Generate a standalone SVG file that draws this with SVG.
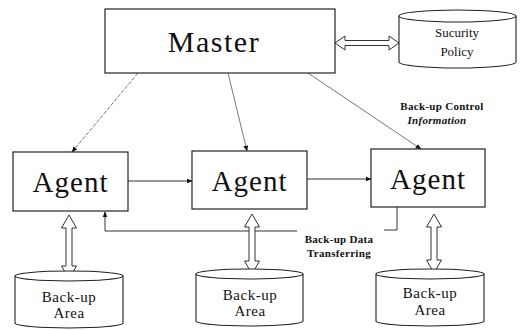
<svg xmlns="http://www.w3.org/2000/svg" width="529" height="330" viewBox="0 0 529 330">
<style>
.box{fill:#fff;stroke:#222;stroke-width:1.2}
.cyl{fill:#fff;stroke:#222;stroke-width:1.1}
.big{font-family:"Liberation Serif",serif;fill:#111;text-anchor:middle}
.lbl{font-family:"Liberation Serif",serif;font-size:15px;fill:#111;text-anchor:middle;letter-spacing:0.5px}
.sm{font-family:"Liberation Serif",serif;font-size:11px;font-weight:bold;fill:#111;text-anchor:middle;letter-spacing:0.3px}
.ln{fill:none;stroke:#333;stroke-width:1}
.thin{fill:none;stroke:#555;stroke-width:0.8}
.hol{fill:#fff;stroke:#333;stroke-width:1}
</style>
<defs>
<marker id="ah" viewBox="0 0 10 10" refX="9" refY="5" markerWidth="6" markerHeight="6" orient="auto" markerUnits="userSpaceOnUse">
<path d="M0,1 L10,5 L0,9 Z" fill="#111"/>
</marker>
</defs>
<g id="connectors">
<line class="thin" x1="138" y1="73" x2="72" y2="152" marker-end="url(#ah)" stroke-dasharray="4,1.5"/>
<line class="thin" x1="228" y1="73" x2="247" y2="151" marker-end="url(#ah)"/>
<line class="thin" x1="308" y1="73" x2="421" y2="149" marker-end="url(#ah)"/>
<line class="ln" x1="128" y1="181" x2="192" y2="181" marker-end="url(#ah)"/>
<line class="ln" x1="307" y1="179" x2="371" y2="179" marker-end="url(#ah)"/>
<path class="ln" d="M397,207 V230 H384 M297,231 H105 V212" marker-end="url(#ah)"/>
<path class="hol" d="M335,43 L345,36 L345,40.5 L389,40.5 L389,36 L399,43 L389,50 L389,45.5 L345,45.5 L345,50 Z"/>
<path class="hol" d="M69,215 L76.5,228 L72,228 L72,266 L76.5,266 L69,279 L61.5,266 L66,266 L66,228 L61.5,228 Z"/>
<path class="hol" d="M252,214 L259.5,227 L255,227 L255,261 L259.5,261 L252,274 L244.5,261 L249,261 L249,227 L244.5,227 Z"/>
<path class="hol" d="M434,214 L441.5,227 L437,227 L437,260 L441.5,260 L434,273 L426.5,260 L431,260 L431,227 L426.5,227 Z"/>
<text class="sm" x="442" y="110">Back-up Control</text>
<text class="sm" x="437" y="124" font-style="italic">Information</text>
<text class="sm" x="339" y="243">Back-up Data</text>
<text class="sm" x="339" y="257">Transferring</text>
</g>
<g id="master">
<rect class="box" x="105" y="9" width="230" height="64"/>
<text class="big" x="214" y="52" font-size="30" letter-spacing="1.5">Master</text>
</g>
<g id="security-policy">
<path class="cyl" d="M399,16 V62 A58.5,6 0 0 0 516,62 V16"/>
<ellipse class="cyl" cx="457.5" cy="16" rx="58.5" ry="6"/>
<text class="big" x="457" y="37" font-size="13">Sucurity</text>
<text class="big" x="457" y="56" font-size="13">Policy</text>
</g>
<g id="agent1">
<rect class="box" x="13" y="152" width="115" height="59"/>
<text class="big" x="70.5" y="192" font-size="29" letter-spacing="1">Agent</text>
</g>
<g id="agent2">
<rect class="box" x="192" y="151" width="115" height="58"/>
<text class="big" x="249.5" y="191" font-size="29" letter-spacing="1">Agent</text>
</g>
<g id="agent3">
<rect class="box" x="371" y="149" width="114" height="58"/>
<text class="big" x="428" y="189" font-size="29" letter-spacing="1">Agent</text>
</g>
<g id="backup-area1">
<path class="cyl" d="M15,276 V323 A54,5 0 0 0 123,323 V276"/>
<ellipse class="cyl" cx="69" cy="276" rx="54" ry="5"/>
<text class="lbl" x="69" y="302">Back-up</text>
<text class="lbl" x="69" y="318">Area</text>
</g>
<g id="backup-area2">
<path class="cyl" d="M196,274 V321 A53.5,5 0 0 0 303,321 V274"/>
<ellipse class="cyl" cx="249.5" cy="274" rx="53.5" ry="5"/>
<text class="lbl" x="250" y="300">Back-up</text>
<text class="lbl" x="250" y="316">Area</text>
</g>
<g id="backup-area3">
<path class="cyl" d="M376,274 V321 A54,5 0 0 0 484,321 V274"/>
<ellipse class="cyl" cx="430" cy="274" rx="54" ry="5"/>
<text class="lbl" x="430" y="298">Back-up</text>
<text class="lbl" x="430" y="315">Area</text>
</g>
</svg>
